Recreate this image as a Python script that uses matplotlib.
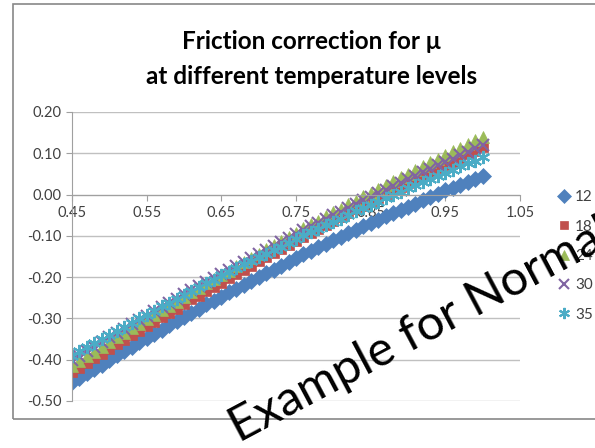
from matplotlib import pyplot
from matplotlib.patches import Rectangle
import matplotlib

matplotlib.rcParams['font.family'] = ['Lato', 'DejaVu Sans']

mu = [0.45, 0.46, 0.47, 0.48, 0.49, 0.50, 0.51, 0.52, 0.53, 0.54,
      0.55, 0.56, 0.57, 0.58, 0.59, 0.60, 0.61, 0.62, 0.63, 0.64,
      0.65, 0.66, 0.67, 0.68, 0.69, 0.70, 0.71, 0.72, 0.73, 0.74,
      0.75, 0.76, 0.77, 0.78, 0.79, 0.80, 0.81, 0.82, 0.83, 0.84,
      0.85, 0.86, 0.87, 0.88, 0.89, 0.90, 0.91, 0.92, 0.93, 0.94,
      0.95, 0.96, 0.97, 0.98, 0.99, 1.00]

t12 = [-0.455, -0.444, -0.433, -0.422, -0.412, -0.400, -0.389, -0.378, -0.368, -0.358,
       -0.347, -0.337, -0.327, -0.317, -0.307, -0.297, -0.286, -0.276, -0.266, -0.257,
       -0.247, -0.237, -0.228, -0.218, -0.209, -0.200, -0.191, -0.182, -0.172, -0.163,
       -0.154, -0.145, -0.136, -0.128, -0.119, -0.111, -0.103, -0.094, -0.086, -0.076,
       -0.069, -0.061, -0.053, -0.045, -0.037, -0.029, -0.022, -0.014, -0.006, 0.001,
       0.010, 0.016, 0.024, 0.031, 0.038, 0.045]
t18 = [-0.430, -0.419, -0.407, -0.396, -0.385, -0.373, -0.363, -0.352, -0.341, -0.330,
       -0.319, -0.308, -0.297, -0.287, -0.276, -0.265, -0.254, -0.245, -0.234, -0.224,
       -0.213, -0.203, -0.193, -0.182, -0.172, -0.162, -0.152, -0.142, -0.133, -0.123,
       -0.113, -0.103, -0.093, -0.084, -0.074, -0.064, -0.055, -0.045, -0.036, -0.027,
       -0.018, -0.009, 0.000, 0.010, 0.019, 0.028, 0.037, 0.046, 0.055, 0.064,
       0.072, 0.080, 0.089, 0.098, 0.106, 0.115]
t24 = [-0.415, -0.404, -0.392, -0.381, -0.370, -0.358, -0.346, -0.335, -0.324, -0.313,
       -0.302, -0.291, -0.280, -0.270, -0.259, -0.248, -0.237, -0.226, -0.215, -0.205,
       -0.194, -0.184, -0.174, -0.163, -0.153, -0.143, -0.133, -0.123, -0.112, -0.102,
       -0.092, -0.082, -0.072, -0.063, -0.053, -0.043, -0.034, -0.024, -0.015, -0.004,
       0.005, 0.014, 0.023, 0.033, 0.042, 0.051, 0.060, 0.069, 0.078, 0.087,
       0.097, 0.105, 0.114, 0.123, 0.131, 0.140]
t30 = [-0.400, -0.390, -0.378, -0.368, -0.357, -0.346, -0.335, -0.325, -0.314, -0.304,
       -0.293, -0.283, -0.273, -0.263, -0.253, -0.242, -0.232, -0.222, -0.212, -0.202,
       -0.192, -0.182, -0.173, -0.163, -0.153, -0.144, -0.134, -0.125, -0.115, -0.106,
       -0.096, -0.087, -0.077, -0.069, -0.060, -0.050, -0.042, -0.032, -0.024, -0.014,
       -0.006, 0.003, 0.011, 0.021, 0.029, 0.037, 0.046, 0.054, 0.063, 0.071,
       0.080, 0.087, 0.096, 0.104, 0.112, 0.120]
t35 = [-0.390, -0.380, -0.370, -0.360, -0.350, -0.339, -0.330, -0.320, -0.310, -0.300,
       -0.291, -0.281, -0.271, -0.263, -0.253, -0.243, -0.233, -0.225, -0.215, -0.206,
       -0.196, -0.188, -0.179, -0.169, -0.161, -0.152, -0.143, -0.134, -0.126, -0.117,
       -0.108, -0.099, -0.091, -0.083, -0.074, -0.066, -0.058, -0.049, -0.041, -0.033,
       -0.025, -0.017, -0.009, -0.001, 0.007, 0.015, 0.022, 0.030, 0.038, 0.046,
       0.053, 0.060, 0.068, 0.076, 0.082, 0.090]

labels = ["12", "18", "24", "30", "35"]
xticks = [0.45, 0.55, 0.65, 0.75, 0.85, 0.95, 1.05]
yticks = [0.20, 0.10, 0.00, -0.10, -0.20, -0.30, -0.40, -0.50]


def main():
    fig = pyplot.figure(figsize=(5.95, 4.48), dpi=100)
    fig.patches.append(Rectangle((13 / 595, 1 - 419 / 448), 1.0, (419 - 4) / 448,
                                 transform=fig.transFigure, fill=False,
                                 edgecolor="#888888", lw=1.2))
    ax = fig.add_axes([72 / 595, 1 - 401 / 448, 448 / 595, 289 / 448])

    series = [t12, t18, t24, t30, t35]
    colors = ["#4F81BD", "#C0504D", "#9BBB59", "#8064A2", "#4BACC6"]
    markers = ["D", "s", "^", "x", (6, 2, 0)]
    sizes = [8, 7.5, 9, 8, 9.5]
    for ys, c, m, s, lab in zip(series, colors, markers, sizes, labels):
        ax.plot(mu, ys, linestyle="none", marker=m, color=c, ms=s,
                mew=1.5 if m in ("x", (6, 2, 0)) else 0.5, label=lab)

    ax.set_xlim(0.45, 1.05)
    ax.set_ylim(-0.50, 0.20)
    ax.set_xticks(xticks)
    ax.set_yticks(yticks)
    ax.set_xticklabels(["%.2f" % v for v in xticks])
    ax.set_yticklabels(["%.2f" % v for v in yticks])
    ax.grid(axis="y", color="#C0C0C0", lw=1)
    ax.set_axisbelow(True)
    for sp in ["top", "right"]:
        ax.spines[sp].set_visible(False)
    ax.spines["bottom"].set_position(("data", 0))
    ax.spines["bottom"].set_color("#A0A0A0")
    ax.spines["left"].set_color("#A0A0A0")
    ax.tick_params(axis="both", colors="#A0A0A0", labelcolor="#404040",
                   labelsize=10.5, length=4, direction="out")
    ax.tick_params(axis="x", pad=4)

    fig.text(0.523, 0.907, "Friction correction for \u03bc", ha="center", va="center",
             fontsize=17.5, fontweight="bold")
    fig.text(0.523, 0.830, "at different temperature levels", ha="center", va="center",
             fontsize=17.5, fontweight="bold")

    ax.legend(loc="center left", bbox_to_anchor=(552 / 595, 1 - 256 / 448),
              bbox_transform=fig.transFigure, frameon=False, fontsize=11,
              handlelength=0.8, handletextpad=0.3, labelspacing=1.0,
              labelcolor="#404040", borderaxespad=0, markerscale=0.85)

    fig.text(243 / 595, 1 - 450 / 448, "Example for Normal", rotation=28,
             fontsize=35, color="black", ha="left", va="bottom",
             rotation_mode="anchor")

    pyplot.savefig("out.png", dpi=100)
    pyplot.close()


if __name__ == '__main__':
    main()
